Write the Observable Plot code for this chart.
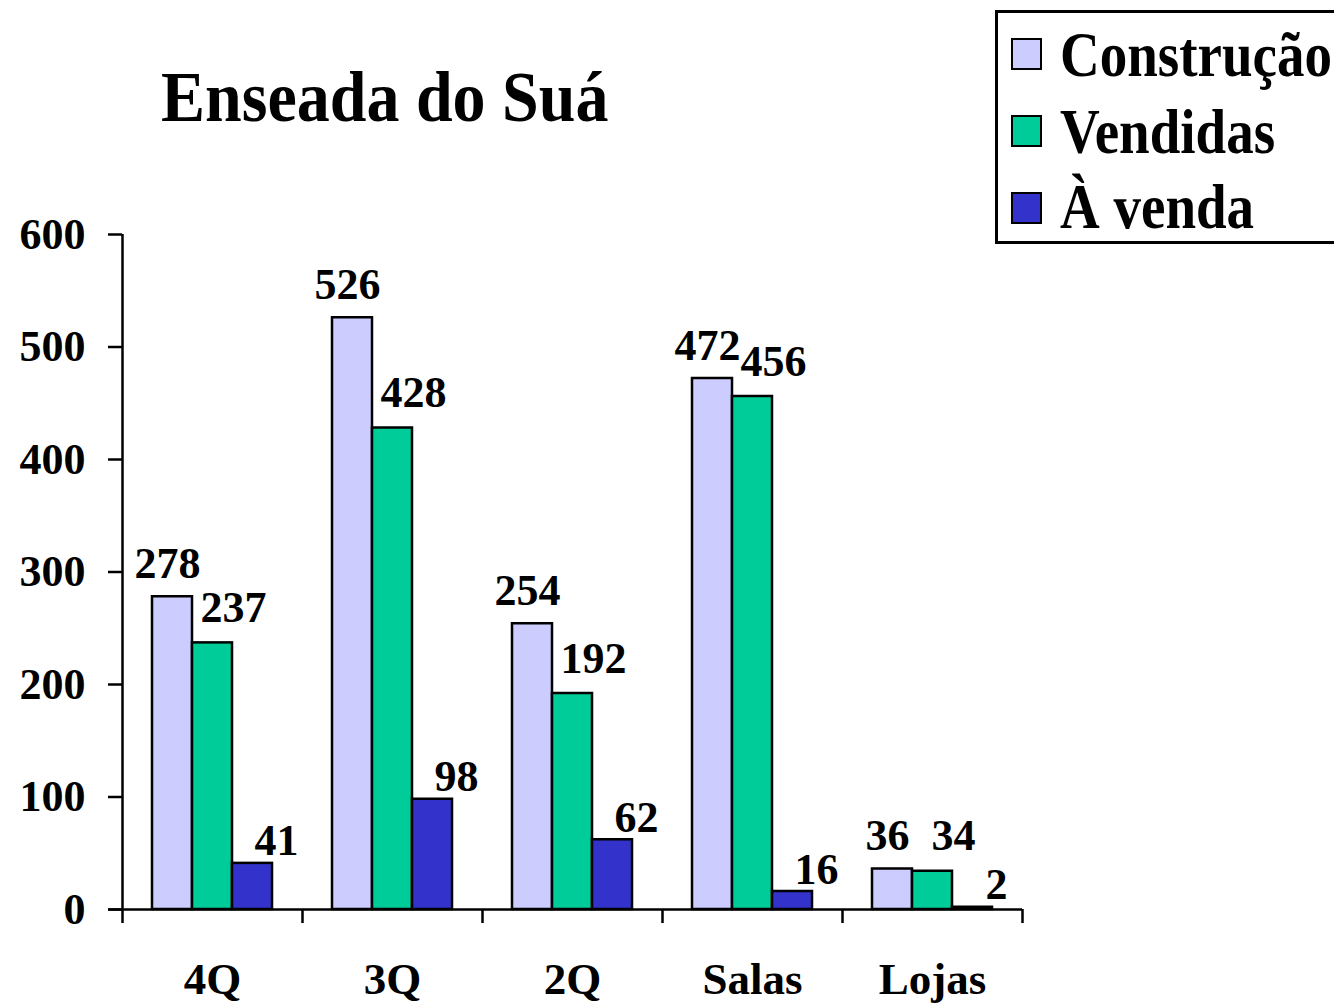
<!DOCTYPE html>
<html>
<head>
<meta charset="utf-8">
<script src="https://cdn.jsdelivr.net/npm/d3@7"></script>
<script src="https://cdn.jsdelivr.net/npm/@observablehq/plot@0.6"></script>
<style>
  body { margin: 0; background: #fff; }
  #wrap { position: relative; width: 1334px; height: 1007px; overflow: hidden;
          font-family: "Liberation Serif", "Times New Roman", serif; font-weight: bold; color: #000; }
  #wrap svg { position: absolute; left: 0; top: 0; }
  .abs { position: absolute; line-height: 1; white-space: nowrap; }
  #title { left: 161px; top: 66px; font-size: 66px; transform: scaleY(1.1); transform-origin: 0 55px; }
  #legendBox { position: absolute; left: 995px; top: 10px; width: 400px; height: 234px;
               border: 3px solid #000; box-sizing: border-box; background: #fff; }
  .swatch { position: absolute; left: 1011px; width: 31px; height: 32px;
            border: 2.5px solid #000; box-sizing: border-box; }
  .ltext { left: 1060px; font-size: 55px; transform: scaleY(1.15); transform-origin: 0 46px; }
</style>
</head>
<body>
<div id="wrap"></div>
<script>
// ---- data ----
const categories = ["4Q", "3Q", "2Q", "Salas", "Lojas"];
const series = ["Construção", "Vendidas", "À venda"];
const construcao = [278, 526, 254, 472, 36];
const vendidas = [237, 428, 192, 456, 34];
const aVenda = [41, 98, 62, 16, 2];
const yTicks = [0, 100, 200, 300, 400, 500, 600];
const colors = ["#CCCCFF", "#00CC99", "#3333CC"];
const title = "Enseada do Suá";

const valuesBySeries = [construcao, vendidas, aVenda];
const rows = categories.flatMap((c, i) =>
  series.map((s, k) => ({category: c, series: s, value: valuesBySeries[k][i]}))
);

// style per series: bar insets within 180px band, label offsets
const insets = [[30, 110], [70, 70], [110, 30]];
const labelDx = [-45, 21, 64];
const labelDy = [-19, -21, -8];
const font = '"Liberation Serif", "Times New Roman", serif';

const marks = [];
series.forEach((s, k) => {
  const data = rows.filter(d => d.series === s);
  marks.push(Plot.barY(data, {
    x: "category", y: "value", fill: "series",
    stroke: "#000", strokeWidth: 2.5,
    insetLeft: insets[k][0], insetRight: insets[k][1]
  }));
});
series.forEach((s, k) => {
  const data = rows.filter(d => d.series === s);
  marks.push(Plot.text(data, {
    x: "category", y: "value", text: d => String(d.value),
    dx: labelDx[k], dy: labelDy[k], lineAnchor: "bottom",
    fontSize: 44, fontWeight: "bold", fontFamily: font, fill: "#000"
  }));
});
// axes
marks.push(Plot.axisY({ticks: yTicks, tickSize: 14, tickPadding: 23, strokeWidth: 2.5,
  fontSize: 44, fontWeight: "bold", fontFamily: font, label: null, tickFormat: d => String(d)}));
marks.push(Plot.axisX({tickSize: 0, tickPadding: 53, fontSize: 45, fontWeight: "bold",
  fontFamily: font, label: null}));
marks.push(Plot.ruleY([0], {strokeWidth: 2.5, insetLeft: -14}));
marks.push(Plot.ruleX([categories[0]], {x: d => d, dx: -90, strokeWidth: 2.5}));
marks.push(Plot.ruleX(categories, {x: d => d, y1: 0, y2: 0, dx: -90, insetTop: 14, strokeWidth: 2.5}));
marks.push(Plot.ruleX([categories[categories.length - 1]], {x: d => d, y1: 0, y2: 0, dx: 90, insetTop: 14, strokeWidth: 2.5}));

const chart = Plot.plot({
  width: 1334, height: 1007,
  marginLeft: 122, marginRight: 312, marginTop: 234, marginBottom: 98,
  x: {domain: categories, padding: 0, axis: null},
  y: {domain: [0, 600], axis: null},
  color: {domain: series, range: colors},
  style: {fontFamily: font, fontWeight: "bold", background: "transparent", color: "#000"},
  marks
});

const wrap = document.getElementById("wrap");
wrap.appendChild(chart);

const t = document.createElement("div");
t.id = "title"; t.className = "abs"; t.textContent = title;
wrap.appendChild(t);

const box = document.createElement("div");
box.id = "legendBox";
wrap.appendChild(box);
const swTops = [38, 115, 192];
const txTops = [30, 107, 182];
series.forEach((s, k) => {
  const sw = document.createElement("div");
  sw.className = "swatch";
  sw.style.top = swTops[k] + "px";
  sw.style.background = colors[k];
  wrap.appendChild(sw);
  const tx = document.createElement("div");
  tx.className = "abs ltext";
  tx.style.top = txTops[k] + "px";
  tx.textContent = s;
  wrap.appendChild(tx);
});
</script>
</body>
</html>
